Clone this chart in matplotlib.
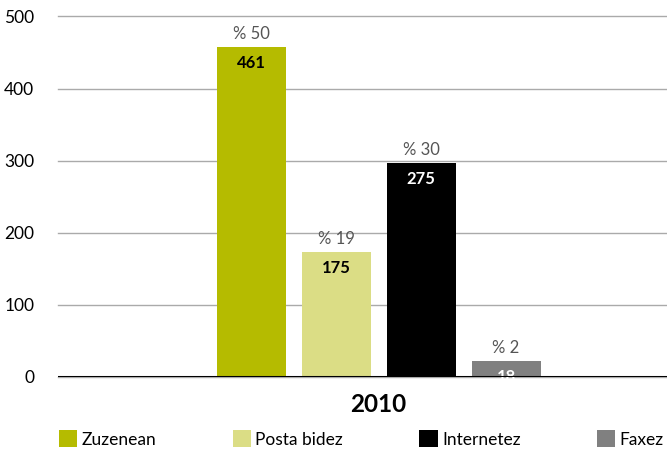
import numpy as np
import matplotlib
matplotlib.use("Agg")
import matplotlib.pyplot as plt

# values
categories = ["Zuzenean", "Posta bidez", "Internetez", "Faxez"]
bar_heights = [458, 173, 297, 22]
value_labels = ["461", "175", "275", "18"]
pct_labels = ["% 50", "% 19", "% 30", "% 2"]
colors = ["#b5bb00", "#dbdd85", "#000000", "#808080"]
value_colors = ["black", "black", "white", "white"]
year = "2010"

plt.rcParams['font.family'] = ['Lato', 'DejaVu Sans']

fig = plt.figure(figsize=(6.67, 4.49), dpi=100)
ax = fig.add_axes([58/667, 1-376.7/449, 641/667, (376.7-16.5)/449])

width = 69/641
step = 85/641
offsets = (np.arange(len(categories)) - 1.5) * step

for i in range(len(categories)):
	x = offsets[i]
	ax.bar(x, bar_heights[i], width, color=colors[i], label=categories[i], zorder=2)
	ax.annotate(pct_labels[i], (x, bar_heights[i]), xytext=(0, 9.5), textcoords="offset points",
		ha="center", va="center", fontsize=12, color="#555555")
	ax.annotate(value_labels[i], (x, bar_heights[i]), xytext=(0, -11.5), textcoords="offset points",
		ha="center", va="center", fontsize=12, fontweight="bold", color=value_colors[i],
		zorder=3, annotation_clip=False)

ax.set_xlim(-0.5, 0.5)
ax.set_ylim(0, 500)
ax.set_yticks([0, 100, 200, 300, 400, 500])
ax.yaxis.grid(True, color="#aaaaaa", linewidth=1, zorder=0, clip_on=False)
ax.set_axisbelow(True)
ax.axhline(0, color="black", linewidth=2.2, zorder=4)
for s in ["top", "right", "left", "bottom"]:
	ax.spines[s].set_visible(False)
ax.tick_params(axis="y", length=0, pad=17, labelsize=12.5)
ax.set_xticks([0])
ax.set_xticklabels([year], fontsize=17.5, fontweight="bold")
ax.tick_params(axis="x", length=0, pad=12)

fig.legend(loc="center left", bbox_to_anchor=(52/667, 1-439/449), ncol=4, frameon=False,
	fontsize=12.5, handlelength=1.05, handleheight=1.1, handletextpad=0.25,
	columnspacing=4.4, borderaxespad=0)

fig.savefig("out.png", dpi=100)
